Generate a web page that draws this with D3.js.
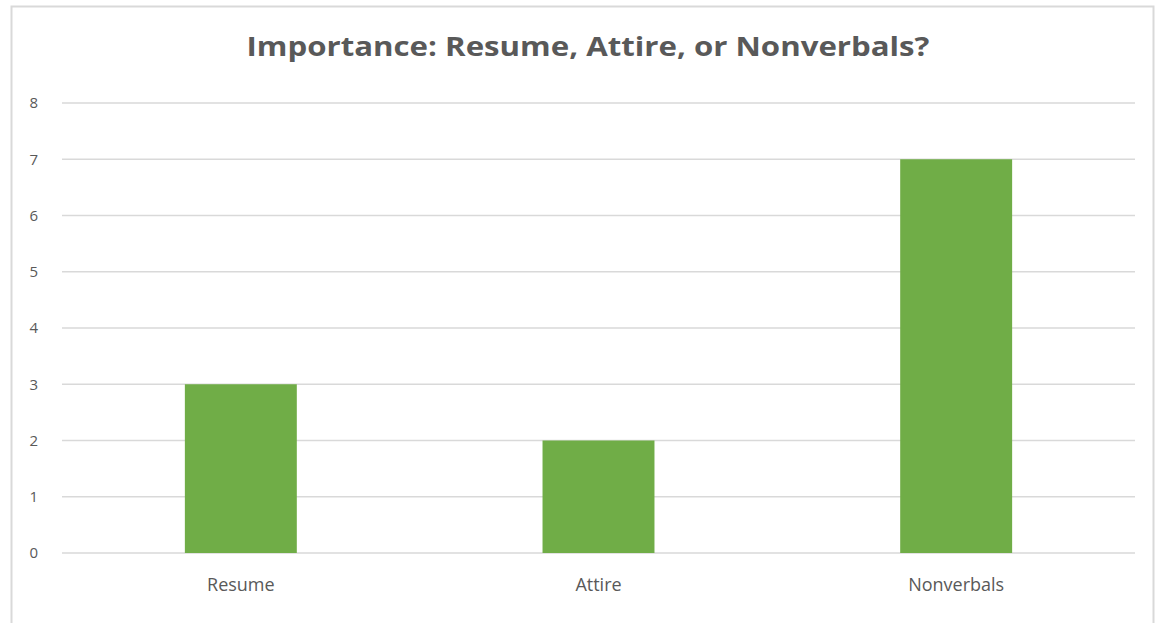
<!DOCTYPE html>
<html>
<head>
<meta charset="utf-8">
<script src="https://cdn.jsdelivr.net/npm/d3@7"></script>
<style>
  body { margin: 0; background: #fff; }
  text { font-family: "Open Sans", "Liberation Sans", sans-serif; fill: #595959; }
</style>
</head>
<body>
<div id="chart"></div>
<script>
// chart data
var categories = ["Resume", "Attire", "Nonverbals"];
var values = [3, 2, 7];
var yTicks = [0, 1, 2, 3, 4, 5, 6, 7, 8];
var chartTitle = "Importance: Resume, Attire, or Nonverbals?";

var svgWidth = 1155;
var svgHeight = 623;

var margin = { top: 103, right: 20, bottom: 70, left: 62 };
var width = 1135 - margin.left;
var height = 553 - margin.top;

var svg = d3.select("#chart")
  .append("svg")
  .attr("width", svgWidth)
  .attr("height", svgHeight);

// outer chart frame
svg.append("rect")
  .attr("x", 11.5)
  .attr("y", 6.5)
  .attr("width", 1142)
  .attr("height", 630)
  .attr("fill", "none")
  .attr("stroke", "#d9d9d9")
  .attr("stroke-width", 2);

svg.append("text")
  .attr("x", 588)
  .attr("y", 56)
  .attr("text-anchor", "middle")
  .attr("font-size", 27)
  .attr("font-weight", "bold")
  .attr("textLength", 683)
  .attr("lengthAdjust", "spacingAndGlyphs")
  .text(chartTitle);

var g = svg.append("g")
  .attr("transform", `translate(${margin.left}, ${margin.top})`);

var x = d3.scaleBand()
  .domain(categories)
  .range([0, width])
  .padding(0);

var y = d3.scaleLinear()
  .domain([0, 8])
  .range([height, 0]);

// gridlines
g.selectAll(".grid")
  .data(yTicks)
  .enter()
  .append("line")
  .attr("x1", 0)
  .attr("x2", width)
  .attr("y1", d => y(d))
  .attr("y2", d => y(d))
  .attr("stroke", "#d9d9d9")
  .attr("stroke-width", 1.5);

// y axis labels
var leftAxis = d3.axisLeft(y).tickValues(yTicks).tickSize(0).tickPadding(24);
var yAxis = g.append("g").call(leftAxis);
yAxis.select(".domain").remove();
yAxis.selectAll("text")
  .attr("font-size", 15)
  .attr("fill", "#595959")
  .style("font-family", "Open Sans, sans-serif");

// bars
var barW = x.bandwidth() * 0.313;
g.selectAll(".bar")
  .data(values)
  .enter()
  .append("rect")
  .attr("x", (d, i) => x(categories[i]) + (x.bandwidth() - barW) / 2)
  .attr("y", d => y(d))
  .attr("width", barW)
  .attr("height", d => height - y(d))
  .attr("fill", "#70ad47");

// x axis labels
var bottomAxis = d3.axisBottom(x).tickSize(0).tickPadding(25);
var xAxis = g.append("g")
  .attr("transform", `translate(0, ${height})`)
  .call(bottomAxis);
xAxis.select(".domain").remove();
xAxis.selectAll("text")
  .attr("font-size", 18)
  .attr("fill", "#595959")
  .style("font-family", "Open Sans, sans-serif");
</script>
</body>
</html>
